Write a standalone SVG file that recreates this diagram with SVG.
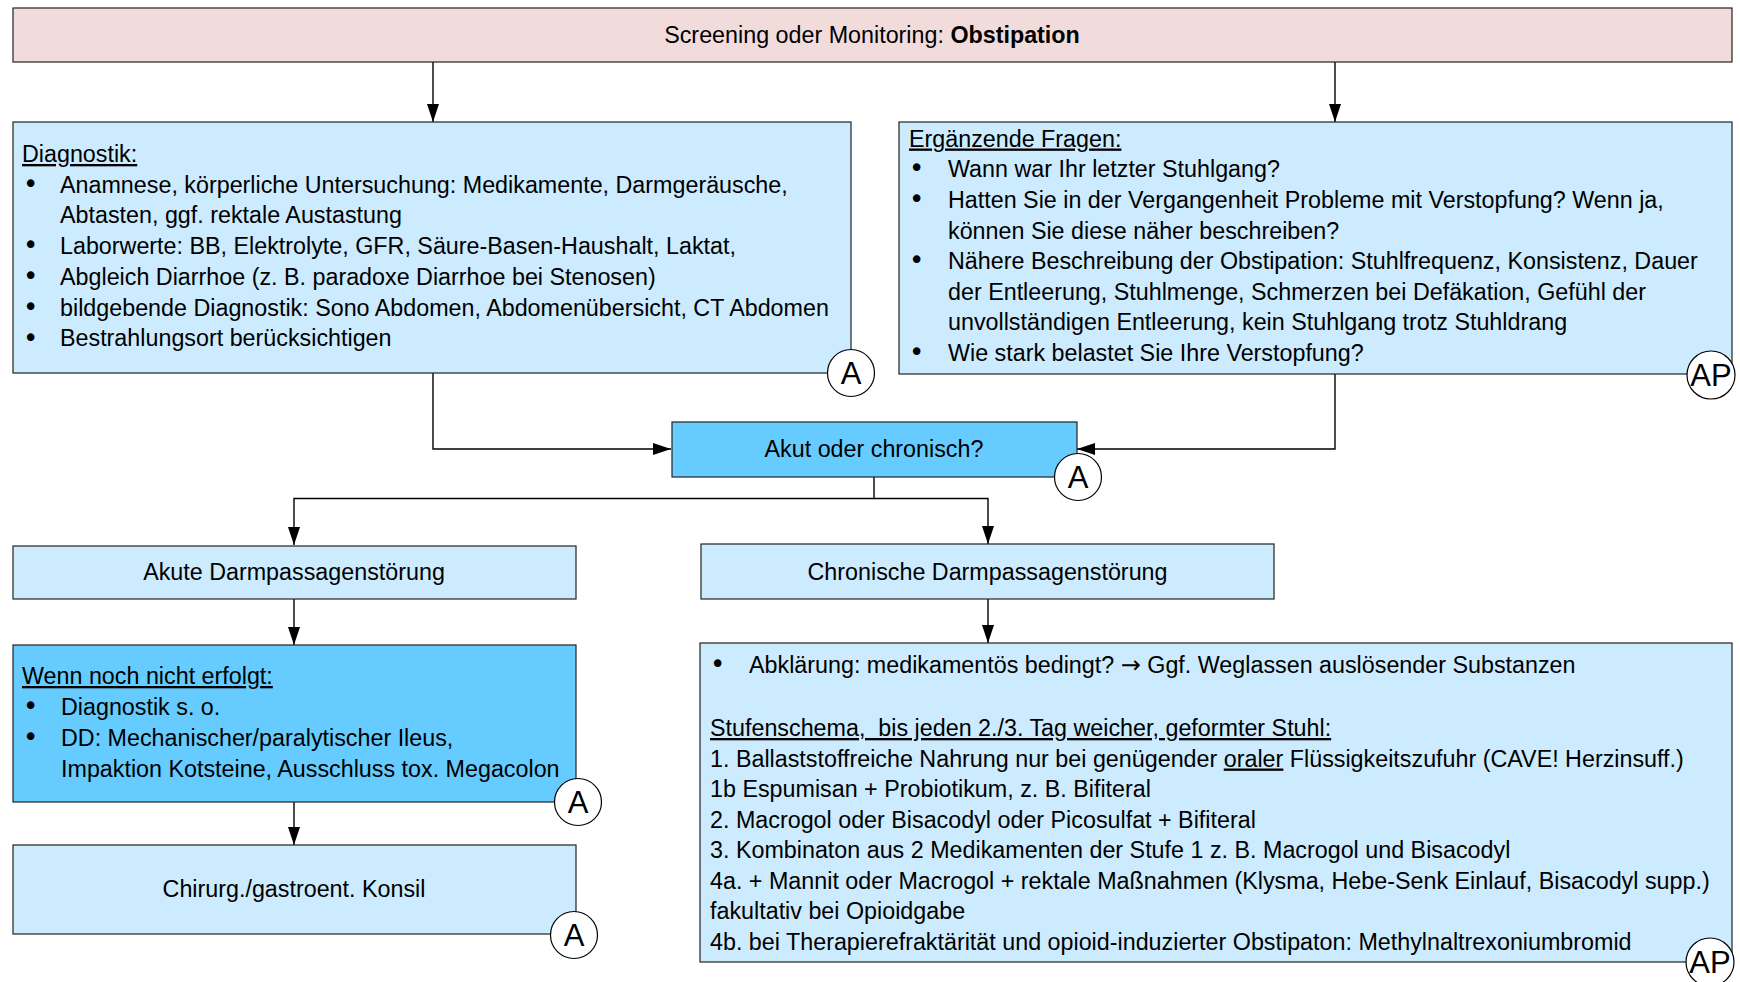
<svg xmlns="http://www.w3.org/2000/svg" width="1740" height="982" viewBox="0 0 1740 982">
  <defs>
    <marker id="arr" markerWidth="18" markerHeight="12" refX="18" refY="6" orient="auto" markerUnits="userSpaceOnUse">
      <path d="M0,0 L18,6 L0,12 z" fill="#000"/>
    </marker>
    <style>
      text { font-family: "Liberation Sans", Arial, sans-serif; font-size: 23.3px; fill: #000; }
      text.b { font-family: "DejaVu Sans", sans-serif; font-size: 26px; }
      tspan.arrow { font-family: "DejaVu Sans", sans-serif; font-size: 24px; }
      .box { stroke: #222; stroke-width: 1.2; }
      .pink { fill: #F2DCDB; }
      .light { fill: #CCEBFF; }
      .dark { fill: #66CCFF; }
      .mid { text-anchor: middle; }
      .u { text-decoration: underline; }
      .badge circle { fill: #fff; stroke: #000; stroke-width: 1.2; }
      .badge text { font-size: 31px; text-anchor: middle; }
      .conn path { fill: none; stroke: #000; stroke-width: 1.4; }
    </style>
  </defs>

  <rect width="1740" height="982" fill="#fff"/>

  <!-- connectors -->
  <g id="connectors" class="conn">
    <path d="M433,62 V122" marker-end="url(#arr)"/>
    <path d="M1335,62 V122" marker-end="url(#arr)"/>
    <path d="M433,373 V449 H671" marker-end="url(#arr)"/>
    <path d="M1335,374 V449 H1077" marker-end="url(#arr)"/>
    <path d="M874,477 V498.5 H294 V545" marker-end="url(#arr)"/>
    <path d="M874,498.5 H988 V544" marker-end="url(#arr)"/>
    <path d="M294,599 V645" marker-end="url(#arr)"/>
    <path d="M294,802 V845" marker-end="url(#arr)"/>
    <path d="M988,599 V643" marker-end="url(#arr)"/>
  </g>

  <!-- header -->
  <g id="screening">
    <rect class="box pink" x="13" y="8" width="1719" height="54"/>
    <text class="mid" x="872" y="43">Screening oder Monitoring: <tspan font-weight="bold">Obstipation</tspan></text>
  </g>

  <!-- diagnostics -->
  <g id="diagnostik">
    <rect class="box light" x="13" y="122" width="838" height="251"/>
    <text class="u" x="22" y="162">Diagnostik:</text>
    <text class="b" x="23" y="193">•</text><text x="60" y="192.7">Anamnese, körperliche Untersuchung: Medikamente, Darmgeräusche,</text>
    <text x="60" y="223.4">Abtasten, ggf. rektale Austastung</text>
    <text class="b" x="23" y="254.3">•</text><text x="60" y="254">Laborwerte: BB, Elektrolyte, GFR, Säure-Basen-Haushalt, Laktat,</text>
    <text class="b" x="23" y="285.1">•</text><text x="60" y="284.8">Abgleich Diarrhoe (z. B. paradoxe Diarrhoe bei Stenosen)</text>
    <text class="b" x="23" y="315.8">•</text><text x="60" y="315.5">bildgebende Diagnostik: Sono Abdomen, Abdomenübersicht, CT Abdomen</text>
    <text class="b" x="23" y="346.5">•</text><text x="60" y="346.2">Bestrahlungsort berücksichtigen</text>
    <g class="badge"><circle cx="851" cy="373" r="23.5"/><text x="851" y="384">A</text></g>
  </g>

  <!-- additional questions -->
  <g id="fragen">
    <rect class="box light" x="899" y="122" width="833" height="252"/>
    <text class="u" x="909" y="146.5">Ergänzende Fragen:</text>
    <text class="b" x="909" y="177.3">•</text><text x="948" y="177">Wann war Ihr letzter Stuhlgang?</text>
    <text class="b" x="909" y="208.3">•</text><text x="948" y="208">Hatten Sie in der Vergangenheit Probleme mit Verstopfung? Wenn ja,</text>
    <text x="948" y="238.5">können Sie diese näher beschreiben?</text>
    <text class="b" x="909" y="269.3">•</text><text x="948" y="269">Nähere Beschreibung der Obstipation: Stuhlfrequenz, Konsistenz, Dauer</text>
    <text x="948" y="299.5">der Entleerung, Stuhlmenge, Schmerzen bei Defäkation, Gefühl der</text>
    <text x="948" y="330">unvollständigen Entleerung, kein Stuhlgang trotz Stuhldrang</text>
    <text class="b" x="909" y="361.3">•</text><text x="948" y="361">Wie stark belastet Sie Ihre Verstopfung?</text>
    <g class="badge"><circle cx="1711" cy="375" r="24"/><text x="1711" y="386">AP</text></g>
  </g>

  <!-- decision -->
  <g id="akut-chronisch">
    <rect class="box dark" x="672" y="422" width="405" height="55"/>
    <text class="mid" x="874" y="457">Akut oder chronisch?</text>
    <g class="badge"><circle cx="1078" cy="477" r="23.5"/><text x="1078" y="488">A</text></g>
  </g>

  <g id="akut">
    <rect class="box light" x="13" y="546" width="563" height="53"/>
    <text class="mid" x="294" y="580">Akute Darmpassagenstörung</text>
  </g>

  <g id="chronisch">
    <rect class="box light" x="701" y="544" width="573" height="55"/>
    <text class="mid" x="987.5" y="580">Chronische Darmpassagenstörung</text>
  </g>

  <g id="wenn">
    <rect class="box dark" x="13" y="645" width="563" height="157"/>
    <text class="u" x="22" y="684">Wenn noch nicht erfolgt:</text>
    <text class="b" x="23" y="715.3">•</text><text x="61" y="715">Diagnostik s. o.</text>
    <text class="b" x="23" y="746.3">•</text><text x="61" y="746">DD: Mechanischer/paralytischer Ileus,</text>
    <text x="61" y="777">Impaktion Kotsteine, Ausschluss tox. Megacolon</text>
    <g class="badge"><circle cx="578" cy="802" r="23.5"/><text x="578" y="813">A</text></g>
  </g>

  <g id="konsil">
    <rect class="box light" x="13" y="845" width="563" height="89"/>
    <text class="mid" x="294" y="897">Chirurg./gastroent. Konsil</text>
    <g class="badge"><circle cx="574" cy="935" r="23.5"/><text x="574" y="946">A</text></g>
  </g>

  <g id="stufenschema">
    <rect class="box light" x="700" y="643" width="1032" height="319"/>
    <text class="b" x="710" y="673.3">•</text><text x="749" y="673">Abklärung: medikamentös bedingt? <tspan class="arrow">→</tspan> Ggf. Weglassen auslösender Substanzen</text>
    <text class="u" x="710" y="736" xml:space="preserve">Stufenschema,  bis jeden 2./3. Tag weicher, geformter Stuhl:</text>
    <text x="710" y="766.5">1. Ballaststoffreiche Nahrung nur bei genügender <tspan class="u">oraler</tspan> Flüssigkeitszufuhr (CAVE! Herzinsuff.)</text>
    <text x="710" y="797">1b Espumisan + Probiotikum, z. B. Bifiteral</text>
    <text x="710" y="827.5">2. Macrogol oder Bisacodyl oder Picosulfat + Bifiteral</text>
    <text x="710" y="858">3. Kombinaton aus 2 Medikamenten der Stufe 1 z. B. Macrogol und Bisacodyl</text>
    <text x="710" y="888.5">4a. + Mannit oder Macrogol + rektale Maßnahmen (Klysma, Hebe-Senk Einlauf, Bisacodyl supp.)</text>
    <text x="710" y="919">fakultativ bei Opioidgabe</text>
    <text x="710" y="949.5">4b. bei Therapierefraktärität und opioid-induzierter Obstipaton: Methylnaltrexoniumbromid</text>
    <g class="badge"><circle cx="1710" cy="962" r="24"/><text x="1710" y="973">AP</text></g>
  </g>
</svg>
